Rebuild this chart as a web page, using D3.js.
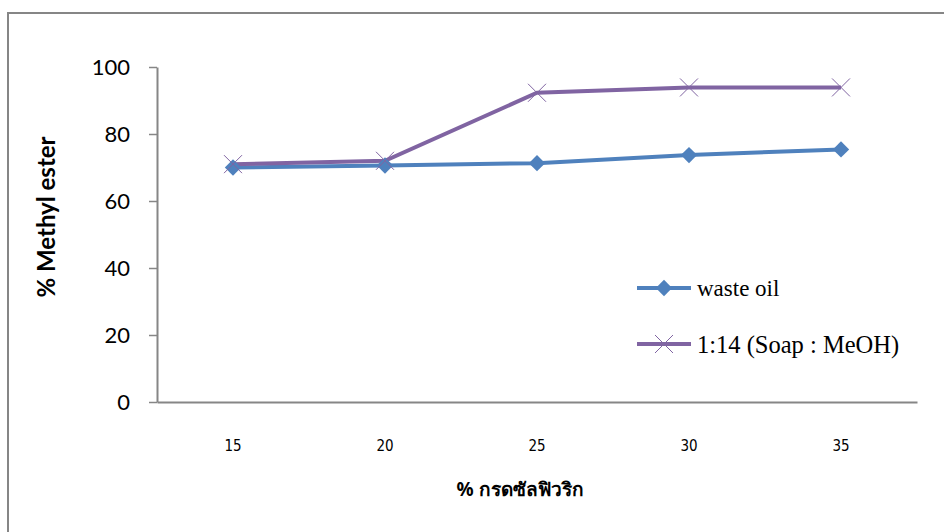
<!DOCTYPE html>
<html>
<head>
<meta charset="utf-8">
<script src="https://cdn.jsdelivr.net/npm/d3@7"></script>
<style>
  body { margin: 0; background: #fff; }
</style>
</head>
<body>
<svg width="944" height="532"></svg>
<script>
let categories = ['15', '20', '25', '30', '35']
let wasteOil = [70.0, 70.6, 71.3, 73.7, 75.4]
let soapMeoh = [71.0, 72.0, 92.3, 93.9, 93.9]
let yTicks = [0, 20, 40, 60, 80, 100]
let seriesNames = ['waste oil', '1:14 (Soap : MeOH)']

let plotLeft = 157, plotRight = 917, plotTop = 67, plotBottom = 402

let svg = d3.select('svg')

// outer frame
svg.append('rect')
    .attr('x', 8).attr('y', 13)
    .attr('width', 960).attr('height', 540)
    .attr('fill', 'none')
    .attr('stroke', '#868686')
    .attr('stroke-width', 2)

let xScale = d3.scaleBand()
                .domain(categories)
                .range([plotLeft, plotRight])

let yScale = d3.scaleLinear()
                .domain([0, 100])
                .range([plotBottom, plotTop])

let yAxis = d3.axisLeft(yScale)
              .tickValues(yTicks)
              .tickSize(8)
              .tickSizeOuter(0)
              .tickPadding(19)

let gy = svg.append('g')
    .attr('transform', `translate(${plotLeft}, 0)`)
    .call(yAxis)
gy.select('.domain').attr('stroke', '#868686').attr('stroke-width', 2)
gy.selectAll('.tick line').attr('stroke', '#868686').attr('stroke-width', 1.5)
gy.selectAll('.tick text')
    .attr('fill', '#000')
    .style('font-family', 'Lato, "Liberation Sans", sans-serif')
    .style('font-size', '22px')

let xAxis = d3.axisBottom(xScale)
              .tickSize(0)
              .tickSizeOuter(0)
              .tickPadding(38)

let gx = svg.append('g')
    .attr('transform', `translate(0, ${plotBottom})`)
    .call(xAxis)
gx.select('.domain').attr('stroke', '#868686').attr('stroke-width', 2)
gx.selectAll('.tick text')
    .attr('fill', '#000')
    .style('font-family', '"Liberation Sans Narrow", "DejaVu Sans Condensed", sans-serif')
    .style('font-size', '15px')

let xPos = (d, i) => xScale(categories[i]) + xScale.bandwidth() / 2

let line = d3.line()
    .x(xPos)
    .y(d => yScale(d))

svg.append('path')
    .datum(wasteOil)
    .attr('d', line)
    .attr('fill', 'none')
    .attr('stroke', '#4f81bd')
    .attr('stroke-width', 4)

svg.append('path')
    .datum(soapMeoh)
    .attr('d', line)
    .attr('fill', 'none')
    .attr('stroke', '#8064a2')
    .attr('stroke-width', 4)

let diamond = d3.symbol().type(d3.symbolDiamond2).size(170)
let cross = 'M-9,-9L9,9M-9,9L9,-9'

svg.selectAll('.dot')
  .data(wasteOil)
  .enter()
  .append('path')
    .attr('class', 'dot')
    .attr('transform', (d, i) => `translate(${xPos(d, i)}, ${yScale(d)})`)
    .attr('d', diamond)
    .attr('fill', '#4f81bd')

svg.selectAll('.xmark')
  .data(soapMeoh)
  .enter()
  .append('path')
    .attr('class', 'xmark')
    .attr('transform', (d, i) => `translate(${xPos(d, i)}, ${yScale(d)})`)
    .attr('d', cross)
    .attr('stroke', '#8064a2')
    .attr('stroke-width', 1)
    .attr('fill', 'none')

// legend
let legendY = [288, 344]
let legend = svg.selectAll('.legend')
  .data(seriesNames)
  .enter()
  .append('g')
    .attr('class', 'legend')
    .attr('transform', (d, i) => `translate(637, ${legendY[i]})`)

legend.append('line')
    .attr('x1', 0).attr('x2', 54)
    .attr('stroke', (d, i) => i === 0 ? '#4f81bd' : '#8064a2')
    .attr('stroke-width', 4)

legend.filter((d, i) => i === 0).append('path')
    .attr('transform', 'translate(27, 0)')
    .attr('d', diamond)
    .attr('fill', '#4f81bd')

legend.filter((d, i) => i === 1).append('path')
    .attr('transform', 'translate(27, 0)')
    .attr('d', cross)
    .attr('stroke', '#8064a2')
    .attr('stroke-width', 1)

legend.append('text')
    .attr('x', 60)
    .attr('dy', '0.35em')
    .style('font-family', '"Liberation Serif", "DejaVu Serif", serif')
    .style('font-size', (d, i) => i === 0 ? '23px' : '24.5px')
    .text(d => d)

svg.append('text')
    .attr('x', 520)
    .attr('y', 496)
    .style('text-anchor', 'middle')
    .style('font-family', '"Noto Sans", "DejaVu Sans", sans-serif')
    .style('font-weight', 'bold')
    .style('font-size', '19px')
    .text('% กรดซัลฟิวริก')

svg.append('text')
    .attr('transform', 'rotate(-90)')
    .attr('x', -217)
    .attr('y', 55)
    .style('text-anchor', 'middle')
    .style('font-family', 'Lato, "Liberation Sans", sans-serif')
    .style('font-weight', 'bold')
    .style('font-size', '24px')
    .text('% Methyl ester')
</script>
</body>
</html>
